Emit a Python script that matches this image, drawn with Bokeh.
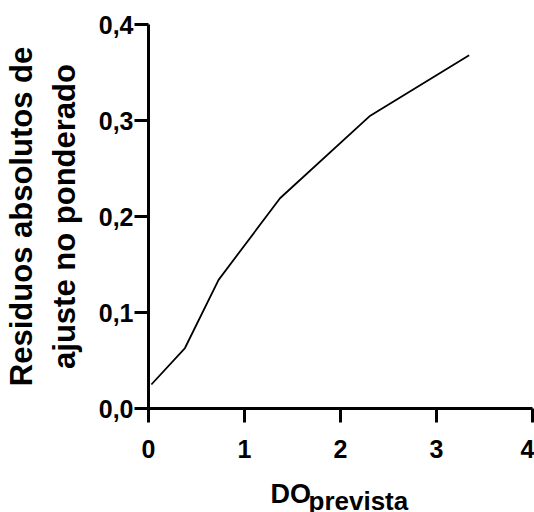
import numpy as np
from bokeh.plotting import figure
from bokeh.models import Range1d, FixedTicker, Label, Title
from bokeh.embed import file_html
from bokeh.resources import INLINE

# Fitted residual curve (predicted OD vs absolute unweighted residuals)
do_prevista = [0.03, 0.38, 0.73, 1.37, 2.31, 3.34]
residuos = [0.025, 0.063, 0.134, 0.219, 0.305, 0.368]

x_ticks = [0, 1, 2, 3, 4]
x_tick_labels = ["0", "1", "2", "3", "4"]
y_ticks = [0.0, 0.1, 0.2, 0.3, 0.4]
y_tick_labels = ["0,0", "0,1", "0,2", "0,3", "0,4"]

FONT = "Liberation Sans"

p = figure(width=534, height=512, output_backend="svg", toolbar_location=None,
           x_range=Range1d(0, 4), y_range=Range1d(0, 0.4),
           min_border_left=148, min_border_right=2,
           min_border_top=24, min_border_bottom=104)

p.line(do_prevista, residuos, line_color="black", line_width=1.8)

p.grid.visible = False
p.outline_line_color = None
p.background_fill_color = "white"
p.border_fill_color = "white"

for ax in (p.xaxis[0], p.yaxis[0]):
    ax.axis_line_width = 3
    ax.axis_line_color = "black"
    ax.major_tick_line_width = 3
    ax.major_tick_line_color = "black"
    ax.major_tick_in = 0
    ax.major_tick_out = 14
    ax.minor_tick_line_color = None
    ax.major_label_text_font = FONT
    ax.major_label_text_font_style = "bold"
    ax.major_label_text_font_size = "25px"
    ax.major_label_text_color = "black"

p.xaxis.ticker = FixedTicker(ticks=x_ticks)
p.xaxis.major_label_overrides = dict(zip(x_ticks, x_tick_labels))
p.xaxis.major_label_standoff = 17
p.yaxis.ticker = FixedTicker(ticks=y_ticks)
p.yaxis.major_label_overrides = dict(zip(y_ticks, y_tick_labels))
p.yaxis.major_label_standoff = 1

# Two-line vertical title
p.yaxis.axis_label = "Residuos absolutos de\najuste no ponderado"
p.yaxis.axis_label_text_font = FONT
p.yaxis.axis_label_text_font_style = "bold"
p.yaxis.axis_label_text_font_size = "31px"
p.yaxis.axis_label_text_line_height = 1.22
p.yaxis.axis_label_text_color = "black"
p.yaxis.axis_label_standoff = 14

# Horizontal title "DO" with the subscript "prevista" in a compact panel under it
p.add_layout(Label(x=122, y=-3, x_units="screen", y_units="screen", text="DO",
                   text_align="left", text_baseline="alphabetic",
                   text_font=FONT, text_font_style="bold", text_font_size="27px",
                   text_color="black"), "below")
p.add_layout(Title(text="prevista", align="left", offset=160, standoff=-13,
                   vertical_align="bottom",
                   text_font=FONT, text_font_style="bold", text_font_size="26px",
                   text_color="black"), "below")

open("out.html", "w").write(file_html(p, INLINE))
